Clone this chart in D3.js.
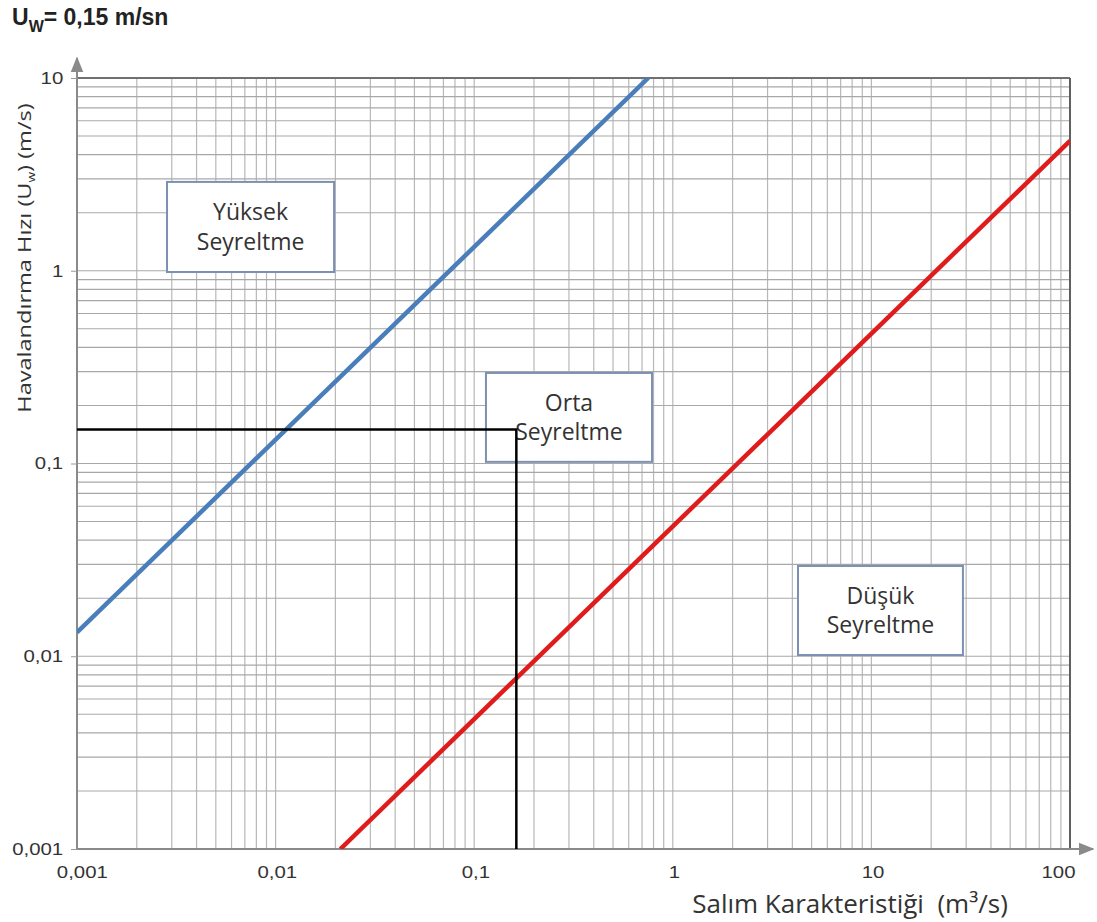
<!DOCTYPE html>
<html>
<head>
<meta charset="utf-8">
<script src="https://cdn.jsdelivr.net/npm/d3@7"></script>
<style>
  body { margin: 0; background: #fff; }
  svg { display: block; }
  .pre { white-space: pre; }
</style>
</head>
<body>
<svg id="chart" width="1097" height="922"></svg>
<script>
// Tick values and labels (Turkish decimal comma)
const xTicks = [0.001, 0.01, 0.1, 1, 10, 100];
const xTickLabels = ["0,001", "0,01", "0,1", "1", "10", "100"];
const yTicks = [0.001, 0.01, 0.1, 1, 10];
const yTickLabels = ["0,001", "0,01", "0,1", "1", "10"];

// Boundary lines between dilution regions: [Q, Uw]
const highBoundary = [[0.001, 0.0133], [0.752, 10]];
const lowBoundary = [[0.0212, 0.001], [100, 4.72]];

// Operating point reading
const operatingQ = 0.163;
const operatingU = 0.15;

// Region labels: [Q at box left, U at box top, Q at box right, U at box bottom]
const regionNames = ["Yüksek", "Orta", "Düşük"];
const regionSub = ["Seyreltme", "Seyreltme", "Seyreltme"];
const regionBoxes = [
  [0.00284, 2.89, 0.0197, 0.985],
  [0.1146, 0.295, 0.786, 0.102],
  [4.27, 0.0294, 28.9, 0.01015]
];

(function () {
const svg = d3.select("#chart");
const pL = 77, pR = 1070, pT = 78, pB = 849;

const x = d3.scaleLog().domain([0.001, 100]).range([pL, pR]);
const y = d3.scaleLog().domain([0.001, 10]).range([pB, pT]);

// Minor + major grid values
const gridX = [], gridY = [];
for (let e = -3; e < 2; e++) for (let m = 1; m < 10; m++) gridX.push(m * Math.pow(10, e));
gridX.push(100);
for (let e = -3; e < 1; e++) for (let m = 1; m < 10; m++) gridY.push(m * Math.pow(10, e));
gridY.push(10);

const grid = svg.append("g");
grid.selectAll("line.vx").data(gridX).join("line").attr("class", "vx")
  .attr("x1", d => x(d)).attr("x2", d => x(d))
  .attr("y1", pT).attr("y2", pB)
  .attr("stroke", "#b8b8b8").attr("stroke-width", 1.2);
grid.selectAll("line.hy").data(gridY).join("line").attr("class", "hy")
  .attr("x1", pL).attr("x2", pR)
  .attr("y1", d => y(d)).attr("y2", d => y(d))
  .attr("stroke", "#a8a8a8").attr("stroke-width", 1.2);

// Frame
svg.append("line").attr("x1", pL).attr("x2", pR).attr("y1", pT).attr("y2", pT)
  .attr("stroke", "#707070").attr("stroke-width", 1.8);
svg.append("line").attr("x1", pR).attr("x2", pR).attr("y1", pT).attr("y2", pB)
  .attr("stroke", "#606060").attr("stroke-width", 2);

// Axes with arrows
svg.append("defs").append("marker")
  .attr("id", "arrow").attr("viewBox", "0 0 10 10").attr("refX", 9).attr("refY", 5)
  .attr("markerWidth", 8).attr("markerHeight", 8).attr("orient", "auto")
  .append("path").attr("d", "M0,1 L10,5 L0,9 Z").attr("fill", "#8a8a8a");
svg.append("line").attr("x1", pL).attr("x2", pL).attr("y1", pB).attr("y2", 58)
  .attr("stroke", "#8a8a8a").attr("stroke-width", 2).attr("marker-end", "url(#arrow)");
svg.append("line").attr("x1", pL).attr("x2", 1093).attr("y1", pB).attr("y2", pB)
  .attr("stroke", "#8a8a8a").attr("stroke-width", 2).attr("marker-end", "url(#arrow)");

// Tick marks and labels (labels drawn slightly wide)
const tickFont = "Arial, 'Liberation Sans', sans-serif";
const xAxis = d3.axisBottom(x).tickValues(xTicks).tickSize(0).tickPadding(17)
  .tickFormat((d, i) => xTickLabels[i]);
const gx = svg.append("g").attr("transform", `translate(0,${pB})`).call(xAxis);
gx.select(".domain").remove();
gx.selectAll("text").attr("font-family", tickFont)
  .attr("font-size", 17).attr("fill", "#333")
  .attr("x", d => (d === 100 ? -10 : d === 0.001 ? 4 : 1))
  .attr("transform", "scale(1.2,1)");

const yAxis = d3.axisLeft(y).tickValues(yTicks).tickSize(6).tickPadding(8)
  .tickFormat((d, i) => yTickLabels[i]);
const gy = svg.append("g").attr("transform", `translate(${pL},0)`).call(yAxis);
gy.select(".domain").remove();
gy.selectAll("line").attr("stroke", "#999");
gy.selectAll("text").attr("font-family", tickFont)
  .attr("font-size", 17).attr("fill", "#333")
  .attr("x", -11.5).attr("transform", "scale(1.2,1)");

const line = d3.line().x(d => x(d[0])).y(d => y(d[1]));

// Clip boundary lines to the plot area
svg.append("clipPath").attr("id", "plot")
  .append("rect").attr("x", pL).attr("y", pT).attr("width", pR - pL).attr("height", pB - pT);

svg.append("path").datum(highBoundary).attr("d", line)
  .attr("clip-path", "url(#plot)")
  .attr("fill", "none").attr("stroke", "#4a7ebb").attr("stroke-width", 4.5);
svg.append("path").datum(lowBoundary).attr("d", line)
  .attr("clip-path", "url(#plot)")
  .attr("fill", "none").attr("stroke", "#e01b1b").attr("stroke-width", 4.5);

// Region labels
regionBoxes.forEach((b, i) => {
  const bx = x(b[0]), by = y(b[1]), bw = x(b[2]) - x(b[0]), bh = y(b[3]) - y(b[1]);
  svg.append("rect").attr("x", bx).attr("y", by).attr("width", bw).attr("height", bh)
    .attr("fill", "#fff").attr("stroke", "#7b90b2").attr("stroke-width", 2);
  const t = svg.append("text").attr("text-anchor", "middle")
    .attr("font-family", "'Open Sans', sans-serif").attr("font-size", 23).attr("fill", "#333");
  t.append("tspan").attr("x", bx + bw / 2).attr("y", by + bh / 2 - 6.5).text(regionNames[i]);
  t.append("tspan").attr("x", bx + bw / 2).attr("y", by + bh / 2 + 23).text(regionSub[i]);
});

// Operating point reading lines
svg.append("path").datum([[0.001, operatingU], [operatingQ, operatingU], [operatingQ, 0.001]])
  .attr("d", line).attr("fill", "none").attr("stroke", "#000").attr("stroke-width", 2.5);

// Title
const title = svg.append("text").attr("x", 12).attr("y", 25)
  .attr("font-family", "Arial, 'Liberation Sans', sans-serif").attr("font-weight", "bold")
  .attr("font-size", 23).attr("fill", "#222");
title.append("tspan").text("U");
title.append("tspan").attr("font-size", 16).attr("dy", 7).text("W");
title.append("tspan").attr("dy", -7).text("= 0,15 m/sn");

// Axis titles
const yt = svg.append("text").attr("transform", "translate(31,258) rotate(-90) scale(1.24,1)")
  .attr("text-anchor", "middle").attr("font-family", "'Open Sans', sans-serif")
  .attr("font-size", 19).attr("fill", "#333");
yt.append("tspan").text("Havalandırma Hızı (U");
yt.append("tspan").attr("font-size", 11).attr("dy", 4).text("w");
yt.append("tspan").attr("dy", -4).text(") (m/s)");

svg.append("text").attr("class", "pre").attr("x", 850).attr("y", 913).attr("text-anchor", "middle")
  .attr("font-family", "'Open Sans', sans-serif").attr("font-size", 26).attr("fill", "#333")
  .text("Salım Karakteristiği  (m³/s)");
})();
</script>
</body>
</html>
